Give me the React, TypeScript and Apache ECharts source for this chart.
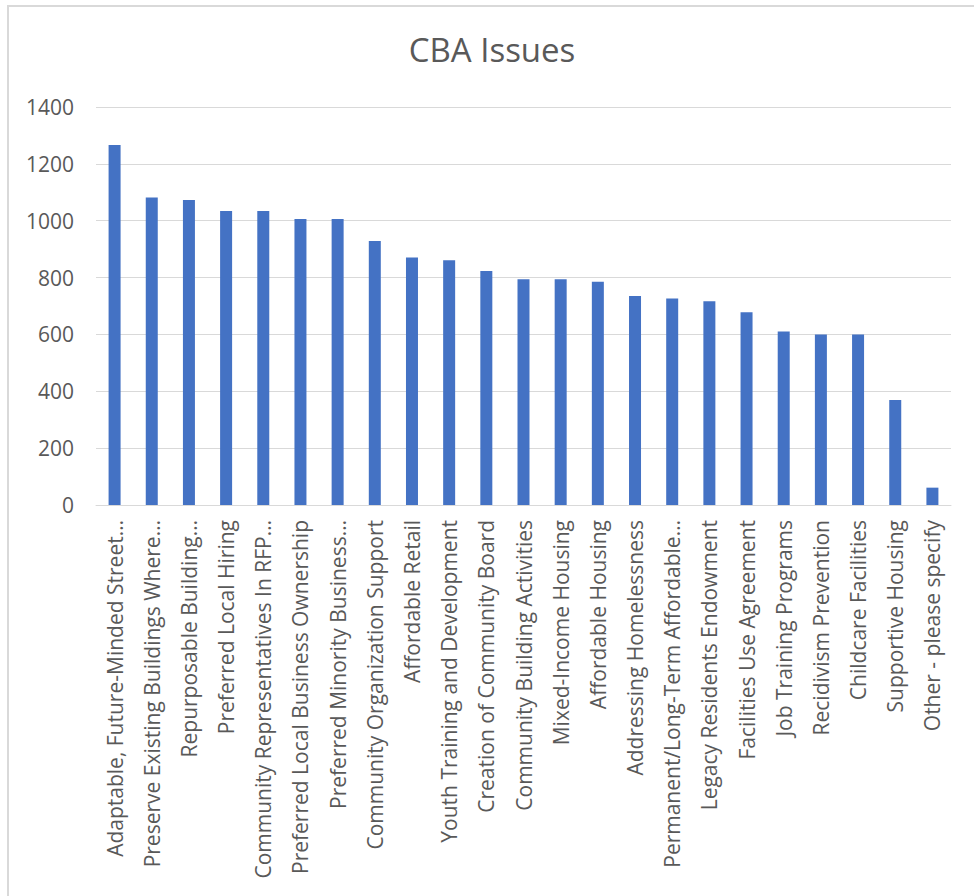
import React, { useEffect, useRef } from "react";
import * as echarts from "echarts";

const titleText = "CBA Issues";

const categories: string[] = [
  "Adaptable, Future-Minded Street…",
  "Preserve Existing Buildings Where…",
  "Repurposable Building…",
  "Preferred Local Hiring",
  "Community Representatives In RFP…",
  "Preferred Local Business Ownership",
  "Preferred Minority Business…",
  "Community Organization Support",
  "Affordable Retail",
  "Youth Training and Development",
  "Creation of Community Board",
  "Community Building Activities",
  "Mixed-Income Housing",
  "Affordable Housing",
  "Addressing Homelessness",
  "Permanent/Long-Term Affordable…",
  "Legacy Residents Endowment",
  "Facilities Use Agreement",
  "Job Training Programs",
  "Recidivism Prevention",
  "Childcare Facilities",
  "Supportive Housing",
  "Other - please specify",
];

const values: number[] = [
  1266, 1082, 1073, 1034, 1034, 1006, 1006, 929, 871, 861, 823, 794, 794, 785,
  735, 726, 717, 678, 610, 600, 600, 369, 61,
];

const yMin = 0;
const yMax = 1400;
const yInterval = 200;

const FONT = "'Open Sans', 'Noto Sans', sans-serif";
const TEXT_COLOR = "#595959";

export default function App() {
  const ref = useRef<HTMLDivElement>(null);

  useEffect(() => {
    if (!ref.current) return;
    const chart = echarts.init(ref.current, undefined, { renderer: "svg" });
    chart.setOption({
      animation: false,
      backgroundColor: "#ffffff",
      textStyle: { fontFamily: FONT },
      title: {
        text: titleText,
        left: 487,
        textAlign: "center",
        top: 28,
        textStyle: {
          fontFamily: FONT,
          fontSize: 33,
          fontWeight: "normal",
          color: TEXT_COLOR,
        },
      },
      graphic: [
        {
          type: "rect",
          shape: { x: 8, y: 6, width: 1200, height: 1200 },
          style: { fill: "none", stroke: "#d9d9d9", lineWidth: 2 },
          silent: true,
          z: -1,
        },
      ],
      grid: { left: 96, right: 23, top: 107, bottom: 391, containLabel: false },
      xAxis: {
        type: "category",
        data: categories,
        axisLine: { show: true, lineStyle: { color: "#d9d9d9", width: 1 } },
        axisTick: { show: false },
        axisLabel: {
          interval: 0,
          rotate: 90,
          margin: 15,
          color: TEXT_COLOR,
          fontFamily: FONT,
          fontSize: 21,
        },
      },
      yAxis: {
        type: "value",
        min: yMin,
        max: yMax,
        interval: yInterval,
        axisLine: { show: false },
        axisTick: { show: false },
        splitLine: { lineStyle: { color: "#d9d9d9", width: 1 } },
        axisLabel: {
          margin: 22,
          color: TEXT_COLOR,
          fontFamily: FONT,
          fontSize: 21,
          formatter: (v: number) => String(v),
        },
      },
      series: [
        {
          type: "bar",
          data: values,
          barWidth: 12,
          itemStyle: { color: "#4472C4" },
        },
      ],
    });
    return () => chart.dispose();
  }, []);

  return (
    <div
      ref={ref}
      style={{ position: "absolute", left: 0, top: 0, width: 974, height: 896 }}
    />
  );
}
